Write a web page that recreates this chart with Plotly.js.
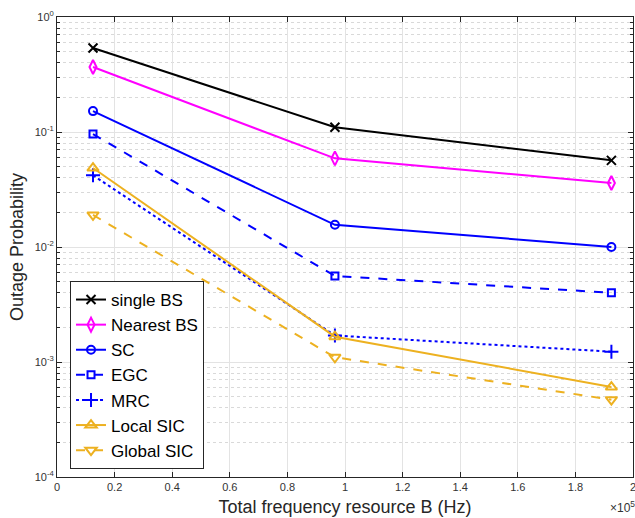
<!DOCTYPE html>
<html><head><meta charset="utf-8">
<script src="https://cdn.plot.ly/plotly-3.0.1.min.js"></script>
<style>html,body{margin:0;padding:0;background:#fff}#chart{width:635px;height:518px}</style>
</head><body><div id="chart"></div>
<script>
const xVals = [12500, 96500, 192500];
const seriesNames = ['single BS','Nearest BS','SC','EGC','MRC','Local SIC','Global SIC'];
const singleBS = [0.537, 0.110, 0.0567];
const nearestBS = [0.367, 0.059, 0.036];
const sc = [0.152, 0.0156, 0.0100];
const egc = [0.096, 0.0056, 0.0040];
const mrc = [0.042, 0.0017, 0.00123];
const localSIC = [0.0486, 0.00166, 0.000606];
const globalSIC = [0.019, 0.0011, 0.00047];
const xTickVals = [0,20000,40000,60000,80000,100000,120000,140000,160000,180000];
const xTickText = ['0','0.2','0.4','0.6','0.8','1','1.2','1.4','1.6','1.8'];
const xLastTickText = '2';
const yTickVals = [1e-4,1e-3,1e-2,1e-1,1];
const yTickText = ['10<sup>-4</sup>','10<sup>-3</sup>','10<sup>-2</sup>','10<sup>-1</sup>','10<sup>0</sup>'];

const styles = [
  {color:'#000000', dash:'solid', symbol:'x-thin-open', size:9},
  {color:'#FF00FF', dash:'solid', symbol:'diamond-tall-open', size:10},
  {color:'#0000FF', dash:'solid', symbol:'circle-open', size:8},
  {color:'#0000FF', dash:'dash', symbol:'square-open', size:7},
  {color:'#0000FF', dash:'dot', symbol:'cross-thin-open', size:10},
  {color:'#EDB120', dash:'solid', symbol:'triangle-up-open', size:10},
  {color:'#EDB120', dash:'dash', symbol:'triangle-down-open', size:10}
];
const allY = [singleBS, nearestBS, sc, egc, mrc, localSIC, globalSIC];
const traces = allY.map((y,i)=>({
  x: xVals, y: y, name: seriesNames[i], type:'scatter', mode:'lines+markers',
  line:{color:styles[i].color, width:2, dash:styles[i].dash},
  marker:{symbol:styles[i].symbol, size:styles[i].size, color:styles[i].color, line:{color:styles[i].color, width:2}}
}));

const minorVals = [];
for (let e=-4; e<0; e++) for (let d=2; d<=9; d++) minorVals.push(d*Math.pow(10,e));

const layout = {
  width:635, height:518,
  margin:{l:57, r:2, t:17, b:41},
  paper_bgcolor:'#fff', plot_bgcolor:'#fff',
  font:{family:'Liberation Sans, Arial, sans-serif', color:'#262626'},
  showlegend:true,
  legend:{x:0.0226, y:0.0174, xanchor:'left', yanchor:'bottom', bgcolor:'#fff',
    bordercolor:'#262626', borderwidth:1, font:{size:17, color:'#000'}, tracegroupgap:0, itemwidth:30},
  xaxis:{type:'linear', range:[0,200000], tickmode:'array', tickvals:xTickVals, ticktext:xTickText,
    ticks:'inside', ticklen:5, tickcolor:'#262626', showline:true, linecolor:'#262626', linewidth:1, mirror:'allticks',
    showgrid:true, gridcolor:'#e3e3e3', gridwidth:1, zeroline:false,
    tickfont:{size:11, color:'#333'},
    title:{text:'Total frequency resource B (Hz)', font:{size:18, color:'#262626'}, standoff:8}},
  yaxis:{type:'log', range:[-4,0], tickmode:'array', tickvals:yTickVals, ticktext:yTickText,
    ticks:'inside', ticklen:5, tickcolor:'#262626', showline:true, linecolor:'#262626', linewidth:1, mirror:'allticks',
    showgrid:true, gridcolor:'#e3e3e3', gridwidth:1, zeroline:false,
    tickfont:{size:11, color:'#333'},
    minor:{tickmode:'array', tickvals:minorVals, ticks:'inside', ticklen:3, tickcolor:'#262626',
      showgrid:true, gridcolor:'#d9d9d9', griddash:'dot', gridwidth:1},
    title:{text:'Outage Probability', font:{size:18, color:'#262626'}, standoff:6}},
  annotations:[
    {xref:'paper', yref:'paper', x:1, y:0, xanchor:'right', yanchor:'middle', yshift:-30, xshift:4,
      text:'×10<sup>5</sup>', showarrow:false, font:{size:12, color:'#333'}},
    {xref:'paper', yref:'paper', x:1, y:0, xanchor:'left', yanchor:'top', yshift:-2, xshift:-5,
      text:xLastTickText, showarrow:false, font:{size:11, color:'#333'}}
  ]
};
Plotly.newPlot('chart', traces, layout, {displayModeBar:false, staticPlot:true});
</script></body></html>
